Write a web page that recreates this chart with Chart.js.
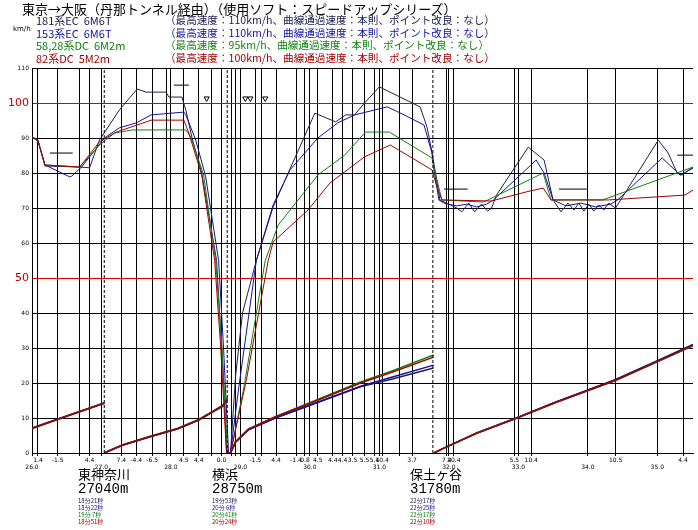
<!DOCTYPE html>
<html>
<head>
<meta charset="utf-8">
<script src="https://cdn.jsdelivr.net/npm/chart.js@4.4.0/dist/chart.umd.min.js"></script>
<style>
  body { margin: 0; background: #fff; }
  #wrap { position: relative; width: 698px; height: 530px; overflow: hidden; background: #fff; }
  canvas { position: absolute; left: 0; top: 0; }
  .t { position: absolute; white-space: pre; line-height: 1; font-family: "Noto Sans CJK JP", sans-serif; }
  .big { font-size: 13px; color: #000; }
  .row { font-size: 11px; }
  .rowr { font-size: 10.6px; }
  .dist { font-size: 14px; font-family: "Liberation Mono", monospace; color: #000; }
  .tm { font-size: 6px; }
  .c0 { color: #202050; } .c1 { color: #1010a8; } .c2 { color: #108010; } .c3 { color: #a00000; }
</style>
</head>
<body>
<div id="wrap">
  <canvas id="chart" width="698" height="530"></canvas>

  <div class="t big" style="left:22px; top:2px;">東京→大阪（丹那トンネル経由）（使用ソフト：スピードアップシリーズ）</div>
  <div class="t row c0" style="left:36px; top:15px;">181系EC  6M6T</div>
  <div class="t row c1" style="left:36px; top:28px;">153系EC  6M6T</div>
  <div class="t row c2" style="left:36px; top:40px;">58,28系DC  6M2m</div>
  <div class="t row c3" style="left:36px; top:53px;">82系DC  5M2m</div>
  <div class="t rowr c0" style="left:165px; top:15px;">（最高速度：110km/h、曲線通過速度：本則、ポイント改良：なし）</div>
  <div class="t rowr c1" style="left:165px; top:28px;">（最高速度：110km/h、曲線通過速度：本則、ポイント改良：なし）</div>
  <div class="t rowr c2" style="left:165px; top:40px;">（最高速度：95km/h、曲線通過速度：本則、ポイント改良：なし）</div>
  <div class="t rowr c3" style="left:165px; top:53px;">（最高速度：100km/h、曲線通過速度：本則、ポイント改良：なし）</div>
  <div class="t" style="left:13px; top:26px; font-size:7px; font-family:'DejaVu Sans';">km/h</div>

  <div class="t big" style="left:78px; top:467px;">東神奈川</div>
  <div class="t dist" style="left:78px; top:482px;">27040m</div>
  <div class="t tm c0" style="left:78px; top:498px;">18分21秒</div>
  <div class="t tm c1" style="left:78px; top:505px;">18分22秒</div>
  <div class="t tm c2" style="left:78px; top:512px;">19分 7秒</div>
  <div class="t tm c3" style="left:78px; top:519px;">18分51秒</div>

  <div class="t big" style="left:212px; top:467px;">横浜</div>
  <div class="t dist" style="left:212px; top:482px;">28750m</div>
  <div class="t tm c0" style="left:212px; top:498px;">19分53秒</div>
  <div class="t tm c1" style="left:212px; top:505px;">20分 6秒</div>
  <div class="t tm c2" style="left:212px; top:512px;">20分41秒</div>
  <div class="t tm c3" style="left:212px; top:519px;">20分24秒</div>

  <div class="t big" style="left:410px; top:467px;">保土ヶ谷</div>
  <div class="t dist" style="left:410px; top:482px;">31780m</div>
  <div class="t tm c0" style="left:410px; top:498px;">22分17秒</div>
  <div class="t tm c1" style="left:410px; top:505px;">22分25秒</div>
  <div class="t tm c2" style="left:410px; top:512px;">22分17秒</div>
  <div class="t tm c3" style="left:410px; top:519px;">22分10秒</div>
</div>

<script>
// distance axis (km) and grade change points
const kmTicks = [26, 27, 28, 29, 30, 31, 32, 33, 34, 35];
const gradeKm = [26.086, 26.371, 26.686, 26.829, 27.286, 27.5, 27.729, 27.929, 28.186, 28.4, 28.586, 28.729,
                 28.871, 28.93, 29.214, 29.3, 29.514, 29.8, 29.929, 30.114, 30.329, 30.471, 30.614, 30.786,
                 30.929, 31.04, 31.286, 31.471, 31.971, 32.071, 32.943, 33.186, 34.4, 35.371];
const gradeLabels = ['1.4', '-1.5', '', '4.4', '7.4', '-4.4', '-6.5', '', '4.5', '4.4', '', '0.0',
                     '', '', '-1.5', '', '4.4', '-1.4', '0.8', '4.5', '4.4', '4.4', '3.5', '5.5',
                     '5.4', '10.4', '', '3.7', '7.4', '10.4', '5.5', '10.4', '10.5', '4.4'];
const stationKm = [27.04, 28.81, 31.77];

// speed curves (km/h)
const km181 = [26.0, 26.086, 26.186, 26.686, 26.829, 26.971, 27.257, 27.514, 27.643, 27.929, 27.971, 28.157,
               28.214, 28.3, 28.443, 28.657, 28.714, 28.757, 28.8, 28.857, 28.93, 29.03, 29.229, 29.471,
               30.071, 30.371, 30.514, 30.643, 30.786, 31.0, 31.586, 31.686, 31.757, 31.871, 32.114, 32.186,
               32.286, 32.371, 32.471, 32.557, 32.614, 32.686, 33.143, 33.371, 33.5, 33.614, 33.714, 33.8,
               33.871, 33.943, 34.014, 34.086, 34.157, 34.229, 34.3, 34.4, 35.014, 35.157, 35.286, 35.357, 35.514];
const spd181 = [90.3, 89.4, 82.0, 81.7, 81.5, 89.4, 98.0, 104.0, 103.1, 103.1, 101.7, 101.7,
                98.0, 90.3, 80.0, 55.0, 35.0, 21.0, 0, 0, 22, 40, 55, 70.3,
                97.1, 94.6, 96.6, 96.6, 100, 104.6, 98.9, 93.1, 86.0, 72.3, 70.0, 68.9,
                71.4, 68.9, 71.1, 69.1, 70.0, 73.7, 87.4, 83.7, 72.3, 68.9, 71.4, 69.4,
                71.4, 69.1, 71.1, 69.1, 70.9, 69.4, 71.4, 70.0, 89.4, 85.7, 80.0, 79.4, 81.7];

const km153 = [26.0, 26.086, 26.186, 26.543, 26.571, 26.714, 27.043, 27.257, 27.5, 27.714, 28.186, 28.214,
               28.357, 28.5, 28.686, 28.757, 28.829, 28.857, 28.971, 29.229, 29.471, 29.714, 30.114, 30.4,
               30.643, 30.929, 31.114, 31.357, 31.643, 31.757, 31.786, 31.857, 31.929, 32.114, 32.257, 32.4,
               32.543, 32.643, 33.257, 33.371, 33.5, 33.686, 33.9, 34.114, 34.329, 34.429, 35.071, 35.329, 35.514];
const spd153 = [90.3, 89.4, 82.3, 78.9, 79.1, 81.7, 90.0, 92.9, 94.3, 96.6, 97.4, 96.6,
                89.4, 78.9, 55.0, 30.0, 0, 0, 18, 55, 70.9, 80.9, 90.0, 94.3,
                96.6, 98.0, 98.9, 96.6, 93.7, 85.7, 80.9, 72.3, 71.4, 70.6, 71.1, 70.3,
                71.1, 72.3, 83.7, 80.0, 72.3, 70.6, 71.4, 70.3, 71.1, 72.3, 84.3, 79.4, 81.4];

const km58 = [26.0, 26.086, 26.186, 26.686, 26.971, 27.186, 27.443, 28.214, 28.286, 28.471, 28.643, 28.729,
              28.814, 28.857, 29.043, 29.357, 29.543, 30.114, 30.5, 30.8, 31.143, 31.757, 31.829, 31.9,
              32.5, 33.357, 33.471, 34.214, 35.514];
const spd58 = [90.3, 89.1, 82.3, 81.7, 88.0, 91.4, 92.3, 92.3, 90.3, 79.4, 55.0, 32.3,
               0, 0, 18, 55, 65.1, 79.4, 85.1, 91.7, 91.7, 84.3, 78.0, 72.3,
               71.7, 80.0, 72.3, 72.3, 81.7];

const km82 = [26.0, 26.086, 26.186, 26.686, 26.971, 27.214, 27.643, 27.714, 28.186, 28.257, 28.443, 28.629,
              28.714, 28.8, 28.857, 29.086, 29.4, 29.471, 29.971, 30.286, 30.786, 31.157, 31.757, 31.829,
              31.9, 32.614, 33.114, 33.357, 33.471, 34.3, 35.4, 35.514];
const spd82 = [90.3, 89.1, 82.3, 81.7, 88.9, 91.7, 94.6, 95.1, 95.1, 91.4, 79.4, 55.0,
               30.9, 0, 0, 20.9, 55, 60.3, 69.4, 77.1, 84.6, 88.0, 80.9, 76.0,
               72.3, 72.0, 74.6, 75.7, 72.3, 72.3, 73.7, 75.1];

// running time curves, restart at each station
const timeKm = [26.0, 26.5, 27.04, 27.04,
                27.04, 27.3, 27.7, 28.1, 28.4, 28.6, 28.75, 28.81, 28.81,
                28.857, 28.93, 29.114, 29.5, 30.014, 30.729, 31.2, 31.78, 31.78,
                31.786, 31.929, 32.4, 32.971, 33.543, 34.4, 34.971, 35.514];
const time181 = [7.1, 10.6, 14.3, null, 0, 2.2, 4.6, 6.9, 9.4, 11.7, 13.4, 15.3, null,
                 0, 3.1, 6.6, 10.0, 13.7, 18.9, 21.2, 24.3, null, 0, 1.4, 5.7, 10.0, 14.6, 20.9, 26.0, 30.9];
const time153 = [7.1, 10.6, 14.3, null, 0, 2.2, 4.6, 6.9, 9.4, 11.8, 13.6, 15.6, null,
                 0, 3.1, 6.6, 10.0, 13.8, 19.1, 21.8, 25.1, null, 0, 1.4, 5.7, 10.0, 14.6, 21.0, 26.1, 31.0];
const time58 = [7.0, 10.5, 14.2, null, 0, 2.3, 4.8, 7.1, 9.6, 11.9, 13.7, 15.8, null,
                0, 3.2, 6.8, 10.4, 14.5, 20.3, 23.6, 28.0, null, 0, 1.4, 5.6, 9.9, 14.4, 20.7, 25.8, 30.6];
const time82 = [7.0, 10.5, 14.2, null, 0, 2.3, 4.7, 7.0, 9.5, 11.8, 13.6, 15.5, null,
                0, 3.2, 6.8, 10.3, 14.3, 20.0, 23.2, 27.4, null, 0, 1.4, 5.6, 9.9, 14.5, 20.8, 25.9, 30.8];

// speed restriction marks
const limitKm = [26.257, 26.586, 26.586, 28.043, 28.257, 28.257, 31.929, 32.271, 32.271, 33.586, 33.986, 33.986, 35.286, 35.514];
const limitSpd = [85.7, 85.7, null, 105.1, 105.1, null, 75.4, 75.4, null, 75.4, 75.4, null, 85.1, 85.1];
const signKm = [28.514, 29.071, 29.143, 29.357];
const signSpd = [101.3, 101.3, 101.3, 101.3];

const colors = ['#202050', '#1010a8', '#108010', '#a00000'];

function pts(xs, ys) {
    return xs.map((x, i) => ({x: x, y: ys[i]}));
}

function line(data, color, width) {
    return {data: data, borderColor: color, borderWidth: width, pointRadius: 0, tension: 0, fill: false, spanGaps: false};
}

const stationPts = [];
stationKm.forEach(s => {
    stationPts.push({x: s, y: 0}, {x: s, y: 110}, {x: s, y: null});
});

const isRed = v => v === 100 || v === 50;

new Chart(document.getElementById('chart'), {
    type: 'line',
    data: {
        datasets: [
            Object.assign(line(stationPts, '#000', 1), {borderDash: [3, 2]}),
            line(pts(timeKm, time82), colors[3], 1.5),
            line(pts(timeKm, time58), colors[2], 1.5),
            line(pts(timeKm, time153), colors[1], 1.5),
            line(pts(timeKm, time181), colors[0], 1.5),
            line(pts(km82, spd82), colors[3], 1),
            line(pts(km58, spd58), colors[2], 1),
            line(pts(km153, spd153), colors[1], 1),
            line(pts(km181, spd181), colors[0], 1),
            line(pts(limitKm, limitSpd), '#000', 1),
            {
                data: pts(signKm, signSpd), showLine: false, pointStyle: 'triangle', rotation: 180,
                pointRadius: 3, borderColor: '#000', backgroundColor: '#fff', borderWidth: 1
            }
        ]
    },
    options: {
        responsive: false,
        animation: false,
        events: [],
        layout: {padding: {top: 68, left: 0, right: 0, bottom: 57}},
        plugins: {legend: {display: false}, tooltip: {enabled: false}},
        scales: {
            x: {
                type: 'linear', min: 26, max: 35.514,
                afterBuildTicks: axis => {
                    axis.ticks = kmTicks.concat(gradeKm).sort((a, b) => a - b).map(v => ({value: v}));
                },
                afterFit: s => { s.height = 20; s.paddingLeft = 0; s.paddingRight = 0; },
                grid: {color: '#000', lineWidth: 1, tickLength: 3, tickColor: '#000'},
                border: {color: '#000'},
                ticks: {
                    autoSkip: false, maxRotation: 0, minRotation: 0, padding: 1, color: '#000',
                    font: {size: 6, family: 'DejaVu Sans'},
                    callback: v => {
                        if (kmTicks.includes(v)) return ['', v.toFixed(1)];
                        return gradeLabels[gradeKm.indexOf(v)];
                    }
                }
            },
            y: {
                min: 0, max: 110,
                afterFit: s => { s.width = 32; s.paddingTop = 0; s.paddingBottom = 0; },
                grid: {
                    color: c => (c.tick && isRed(c.tick.value)) ? '#e00000' : '#000',
                    lineWidth: 1, drawTicks: false
                },
                border: {color: '#000'},
                ticks: {
                    stepSize: 10, padding: 3,
                    color: c => (c.tick && isRed(c.tick.value)) ? '#c00000' : '#000',
                    font: c => (c.tick && isRed(c.tick.value)) ? {size: 11, family: 'DejaVu Sans'} : {size: 6, family: 'DejaVu Sans'}
                }
            }
        }
    }
});
</script>
</body>
</html>
